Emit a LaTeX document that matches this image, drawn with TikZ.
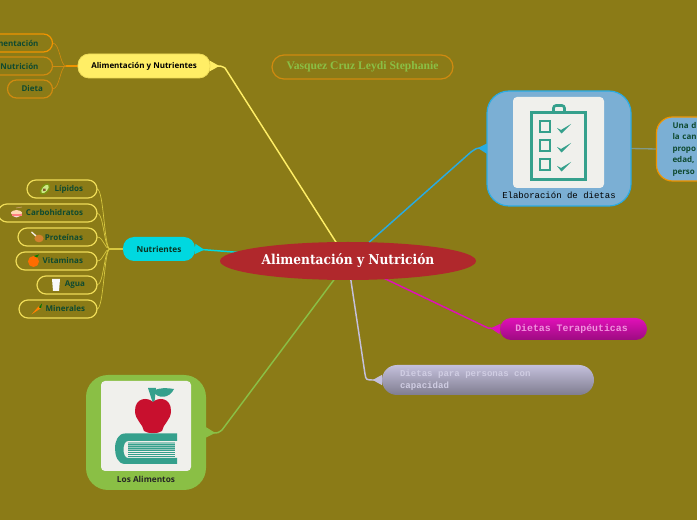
\documentclass[tikz,border=0pt]{standalone}
\usepackage{fontspec}
\setmainfont{Open Sans}
\newfontfamily\slabfont{DejaVu Serif Condensed}[BoldFont={DejaVu Serif Condensed Bold}]
\newfontfamily\timesfont{Liberation Serif}
\newfontfamily\monofont{Liberation Mono}
\usetikzlibrary{arrows.meta,backgrounds,shapes.geometric}
\newcommand\dnt[1]{\raisebox{-.75pt}{#1}}
\definecolor{bgol}{HTML}{8B7B17}
\definecolor{teal1}{HTML}{35A08C}
\definecolor{paper}{HTML}{F0F0EC}
\definecolor{darkt}{HTML}{0F4A30}
\definecolor{yel}{HTML}{FFEE66}
\definecolor{yelb}{HTML}{EFDC58}
\definecolor{yeli}{HTML}{D8C840}
\definecolor{org}{HTML}{F09400}
\definecolor{orgd}{HTML}{D08A10}
\definecolor{cy}{HTML}{00D8E0}
\definecolor{sky}{HTML}{29ABE2}
\definecolor{blu}{HTML}{7BAFD4}
\definecolor{grn}{HTML}{8ABF45}
\definecolor{mag}{HTML}{E010B8}
\definecolor{gry}{HTML}{C4C0DC}
\definecolor{redc}{HTML}{B0282C}
\definecolor{redap}{HTML}{C8102E}
\tikzset{
  x=.75pt,y=-.75pt,
  box/.style={rectangle,rounded corners=#1*.75pt,outer sep=0pt,inner sep=0pt,align=center},
  bw/.style={minimum width=#1*.75pt},
  bh/.style={minimum height=#1*.75pt},
  kid/.style={box=9,anchor=east,draw=#1,line width=.9pt,minimum height=18*.75pt,
    align=right,inner xsep=14*.75pt,text=darkt,font=\bfseries\fontsize{6}{7}\selectfont},
  tw/.style={bw=#1,text width=(#1-28)*.75pt},
  conn/.style={line width=1.1pt,-{Triangle[reversed,length=7pt,width=7.5pt]}},
  sub/.style={line width=.5pt},
}
\begin{document}
\begin{tikzpicture}
\useasboundingbox (0,0) rectangle (697,520);
\clip (0,0) rectangle (697,520);

% ---- main nodes
\node[ellipse,fill=redc,inner sep=0pt,minimum width=256*.75pt,minimum height=38*.75pt,text=white,
  font=\slabfont\bfseries\fontsize{10.2}{12}\selectfont] (c) at (348,261) {\dnt{Alimentación y Nutrición}};

\node[box=11,fill=yel,draw=yelb,line width=.6pt,bw=132,bh=24,font=\bfseries\fontsize{6}{7}\selectfont] (an) at (144,66) {\dnt{Alimentación y Nutrientes}};
\node[box=11,fill=cy,bw=72,bh=24,text=darkt!70!black,font=\bfseries\fontsize{6.2}{7}\selectfont] (nu) at (159,249) {\dnt{Nutrientes}};
\node[box=12,draw=orgd,line width=.9pt,bw=181,bh=24,text=grn,font=\timesfont\bfseries\fontsize{8.7}{11}\selectfont] (au) at (362.5,67) {\dnt{Vasquez Cruz Leydi Stephanie}};

\node[box=22,fill=blu,draw=sky,line width=.9pt,bw=144,bh=115] (el) at (559,148.5) {};
\node[box=4,fill=paper,bw=91,bh=91] (elimg) at (558.5,142.5) {};
\node[font=\monofont\fontsize{6.75}{8}\selectfont,text=black] (elt) at (559,195) {Elaboración de dietas};

\node[box=16,fill=blu,draw=org,line width=.9pt,anchor=west,bw=82,bh=64,align=left,inner xsep=16*.75pt,
  text width=50*.75pt,text=darkt,font=\bfseries\fontsize{6}{8.6}\selectfont] (un) at (656.5,149) {Una d\\la can\\propo\\edad,\\perso};

\node[box=11,top color=mag,bottom color=mag!70!black,bw=147,bh=22,text=mag!45!white,
  font=\monofont\bfseries\fontsize{7.4}{9}\selectfont] (te) at (573.5,329) {\hspace*{-3pt}Dietas Terapéuticas};
\node[box=15,top color=gry,bottom color=gry!65!black,bw=212,bh=30,text=gry!80!white,align=left,
  font=\monofont\bfseries\fontsize{6.8}{8.6}\selectfont,
  text width=176*.75pt,inner xsep=18*.75pt] (dp) at (488,380) {\spaceskip=0pt Dietas para personas con\\capacidad};

\node[box=22,fill=grn,bw=120,bh=115] (al) at (146,432.5) {};
\node[box=4,fill=paper,bw=90,bh=90] (alimg) at (146,426) {};
\node[font=\bfseries\fontsize{6.2}{7}\selectfont,text=black!85] (alt) at (146,479) {Los Alimentos};

% ---- children
\node[kid=org,tw=96] (k1) at (52.5,43) {\dnt{Alimentación}};
\node[kid=orgd,tw=80] (k2) at (52.5,66) {\dnt{Nutrición}};
\node[kid=orgd,tw=45] (k3) at (52.5,89) {\dnt{Dieta}};
\node[kid=yelb,tw=70] (n1) at (97,189) {\dnt{Lípidos}};
\node[kid=yelb,tw=99] (n2) at (97,213) {\dnt{Carbohidratos}};
\node[kid=yelb,tw=79] (n3) at (97,237) {\dnt{Proteínas}};
\node[kid=yelb,tw=81] (n4) at (97,261) {\dnt{Vitaminas}};
\node[kid=yelb,bw=60,inner xsep=12*.75pt,text width=36*.75pt] (n5) at (97,285) {\dnt{Agua}};
\node[kid=yelb,bw=78,inner xsep=12*.75pt,text width=54*.75pt] (n6) at (97,309) {\dnt{Minerales}};

\coordinate (ta) at (66,66);
\coordinate (tn) at (110,249);
\coordinate (xa) at (60,0);
\coordinate (xn) at (104,0);
\coordinate (cy1) at (471,152);
\coordinate (cy2) at (477,148);
\coordinate (ye1) at (225,68);
\coordinate (ye2) at (221,66);
\coordinate (gr1) at (222,430);
\coordinate (gr2) at (218,433);
\coordinate (gy1) at (365,374);
\coordinate (gy2) at (366,380);
\coordinate (mg1) at (488,328);

% ---- connectors
\begin{pgfonlayer}{background}
\fill[bgol] (0,0) rectangle (697,520);
\draw[conn,yel] (c.center) -- (ye1) .. controls (ye2) .. (an.east);
\draw[conn,cy] (c.center) -- (nu.east);
\draw[conn,sky] (c.center) -- (cy1) .. controls (cy2) .. (el.west);
\draw[conn,mag] (c.center) -- (mg1) -- (te.west);
\draw[conn,gry] (c.center) -- (gy1) .. controls (gy2) .. (dp.west);
\draw[conn,grn] (c.center) -- (gr1) .. controls (gr2) .. (al.east);
\draw[line width=1pt,blu!60!bgol] (el.east) -- (un.west);
\draw[line width=1pt,org] (an.west) -- (ta);
\foreach \k in {k1,k2,k3}
  \draw[sub,orgd] (ta) .. controls (xa |- ta) and (xa |- \k.east) .. (\k.east);
\draw[line width=1pt,yeli] (nu.west) -- (tn);
\foreach \k in {n1,n2,n3,n4,n5,n6}
  \draw[sub,yeli] (tn) .. controls (xn |- tn) and (xn |- \k.east) .. (\k.east);
\end{pgfonlayer}

% ---- clipboard picture
\draw[teal1,line width=2.4pt] (531.5,112.5) rectangle (585.5,179.5);
\draw[teal1,line width=2pt,rounded corners=2pt] (553.5,111) -- (553.5,105.5) -- (564.5,105.5) -- (564.5,111);
\foreach \yy in {121,140,159}{
  \draw[teal1,line width=1.8pt] (540,\yy) rectangle (550,\yy+11);
  \fill[teal1] (557,\yy+7) -- (561,\yy+9) -- (571,\yy+3) -- (561.5,\yy+12.5) -- cycle;
}

% ---- apple and book picture
\fill[teal1] (148,388) -- (156,388) -- (154.5,402) -- (152.5,402) -- cycle;
\fill[teal1] (153,391) .. controls (160,387) and (168,388) .. (174,389) .. controls (170,398) and (158,400) .. (153,391) -- cycle;
\fill[redap] (153,402) .. controls (158,397) and (171,397) .. (171,411)
  .. controls (171,420) and (163,424) .. (162,431) .. controls (158,434) and (148,434) .. (144,431)
  .. controls (143,424) and (135,420) .. (135,411) .. controls (135,397) and (148,397) .. (153,402) -- cycle;
\fill[teal1] (177,433.5) -- (125,433.5) .. controls (118,433.5) and (115,441) .. (115,448.5) .. controls (115,456) and (118,464) .. (125,464) -- (177,464) -- (177,458) -- (128,458) .. controls (122,458) and (122,441) .. (128,441) -- (177,441) -- cycle;
\fill[teal1!50!paper] (128,442) rectangle (175,450);
\foreach \yy in {444,446,448,450,452,454,456}
  \draw[teal1,line width=.35pt] (128,\yy) -- (175,\yy);

% ---- small icons
\begin{scope}[shift={(45,189)},rotate=-40]
  \fill[olive!70!green] (0,0) ellipse (4*.75pt and 6.5*.75pt);
  \fill[yellow!60!green!50!white] (0,0) ellipse (2.6*.75pt and 5*.75pt);
  \fill[brown!70!black] (0,1) circle (1.7*.75pt);
\end{scope}
\fill[white!85!red] (11,212) arc[start angle=180,end angle=360,radius=5.5*.75pt] -- cycle;
\fill[orange!30!white] (16.5,213) ellipse (5.5*.75pt and 3*.75pt);
\fill[red!50!white] (11.5,214.5) rectangle (21.5,216);
\draw[brown!70,line width=.4pt] (16,208) -- (22,207);
\fill[brown!70!orange] (39,238.5) ellipse (4.6*.75pt and 3.8*.75pt);
\draw[white!85!brown,line width=1pt] (31.5,232) -- (36,236);
\fill[orange!85!red] (33.5,261.5) circle (5.5*.75pt);
\fill[green!50!black] (34,256) -- (39,254.5) -- (37,257.5) -- cycle;
\fill[white!95!gray] (52,279) -- (60,279) -- (59,291) -- (53,291) -- cycle;
\fill[orange] (31.5,314.5) -- (38.5,306.5) -- (40.5,308.5) -- cycle;
\fill[green!45!black] (39,307.5) -- (42,303.5) -- (41,308) -- cycle;
\end{tikzpicture}
\end{document}
